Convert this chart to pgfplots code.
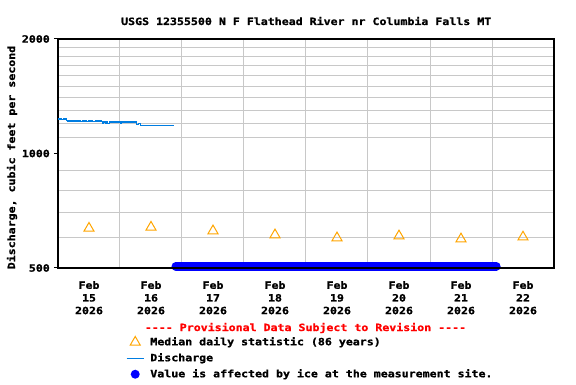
\documentclass[border=0pt]{standalone}
\usepackage{fontspec}
\usepackage{pgfplots}
\pgfplotsset{compat=1.18}
\newfontfamily\chartfont[FakeStretch=1.16, FakeBold=1.2]{DejaVu Sans Mono Bold}
\definecolor{qblue}{RGB}{0,125,225}
\definecolor{qorange}{RGB}{255,165,0}
\definecolor{qgrid}{RGB}{200,200,200}
\definecolor{qice}{RGB}{0,0,255}
\begin{document}
\begin{tikzpicture}[x=1pt,y=1pt]
\path[use as bounding box] (0,0) rectangle (576,384);
\begin{axis}[
  at={(58pt,116pt)}, anchor=south west,
  scale only axis, width=496pt, height=229pt,
  ymode=log, ymin=500, ymax=2000,
  xmin=0, xmax=8,
  clip=false,
  axis line style={black, line width=1.2pt},
  font=\chartfont\fontsize{10}{12.7}\selectfont,
  /pgf/number format/assume math mode=true,
  xtick={0.5,1.5,2.5,3.5,4.5,5.5,6.5,7.5},
  xticklabels={Feb\\15\\2026,Feb\\16\\2026,Feb\\17\\2026,Feb\\18\\2026,Feb\\19\\2026,Feb\\20\\2026,Feb\\21\\2026,Feb\\22\\2026},
  xticklabel style={align=center, anchor=north, inner sep=0pt, yshift=-9pt},
  x tick style={draw=none},
  minor xtick={1,2,3,4,5,6,7},
  xminorgrids=true,
  ytick={500,1000,2000},
  yticklabels={500,1000,2000},
  yticklabel style={anchor=east, inner sep=0pt, xshift=-4pt},
  minor ytick={600,700,800,900,1100,1200,1300,1400,1500,1600,1700,1800,1900},
  yminorgrids=true,
  y tick style={black, line width=1pt},
  major tick length=4pt, minor tick length=0pt,
  tick align=outside,
  tick pos=left,
  minor grid style={qgrid, line width=1pt},
  legend style={draw=none, fill=none, inner sep=0pt, at={(axis description cs:0.137,-0.298)}, anchor=north west,
    row sep=6pt, nodes={inner sep=0pt, text height=8pt, text depth=2pt},
    /tikz/every odd column/.append style={column sep=6pt},
    font=\chartfont\fontsize{10}{12}\selectfont},
  legend cell align=left,
]
\addplot[only marks, mark=triangle, mark size=5.8pt, qorange, mark options={line width=1pt}]
  coordinates {(0.5,636) (1.5,640) (2.5,626) (3.5,611) (4.5,600) (5.5,607) (6.5,596) (7.5,603)};
\addlegendentry{Median daily statistic (86 years)}
\addplot[const plot, qblue, line width=1.1pt]
  coordinates {
  (0.00,1232) (0.06,1228) (0.09,1232) (0.14,1224) (0.16,1217) (0.34,1217)
  (0.37,1212) (0.40,1217) (0.46,1212) (0.49,1217) (0.56,1212) (0.60,1217)
  (0.70,1214) (0.72,1200) (0.74,1210) (0.76,1200) (0.78,1210) (0.80,1200)
  (0.83,1210) (0.86,1205) (0.88,1210) (0.97,1210) (1.01,1198) (1.03,1210)
  (1.24,1210) (1.27,1195) (1.30,1200) (1.33,1186) (1.87,1186)};
\addlegendentry{Discharge}
\addplot[qice, line width=8.6pt, line cap=round, mark=none,
  legend image code/.code={\path[fill=qice, draw=none, line width=0pt] (0.3cm,0cm) circle (4.5pt);}]
  coordinates {(1.90,505) (2.5,505) (3.0,505) (3.5,505) (4.0,505) (4.5,505) (5.0,505) (5.5,505) (6.0,505) (6.5,505) (7.07,505)};
\addlegendentry{Value is affected by ice at the measurement site.}
\addplot[black, line width=1.2pt, forget plot] coordinates {(0,500) (8,500)};
\end{axis}
\node[font=\chartfont\fontsize{10}{12}\selectfont] at (306.2,363) {USGS 12355500 N F Flathead River nr Columbia Falls MT};
\node[font=\chartfont\fontsize{10}{12}\selectfont, rotate=90] at (12,226.5) {Discharge, cubic feet per second};
\node[font=\chartfont\fontsize{10}{12}\selectfont, text=red] at (305.5,56) {---- Provisional Data Subject to Revision ----};
\end{tikzpicture}
\end{document}
